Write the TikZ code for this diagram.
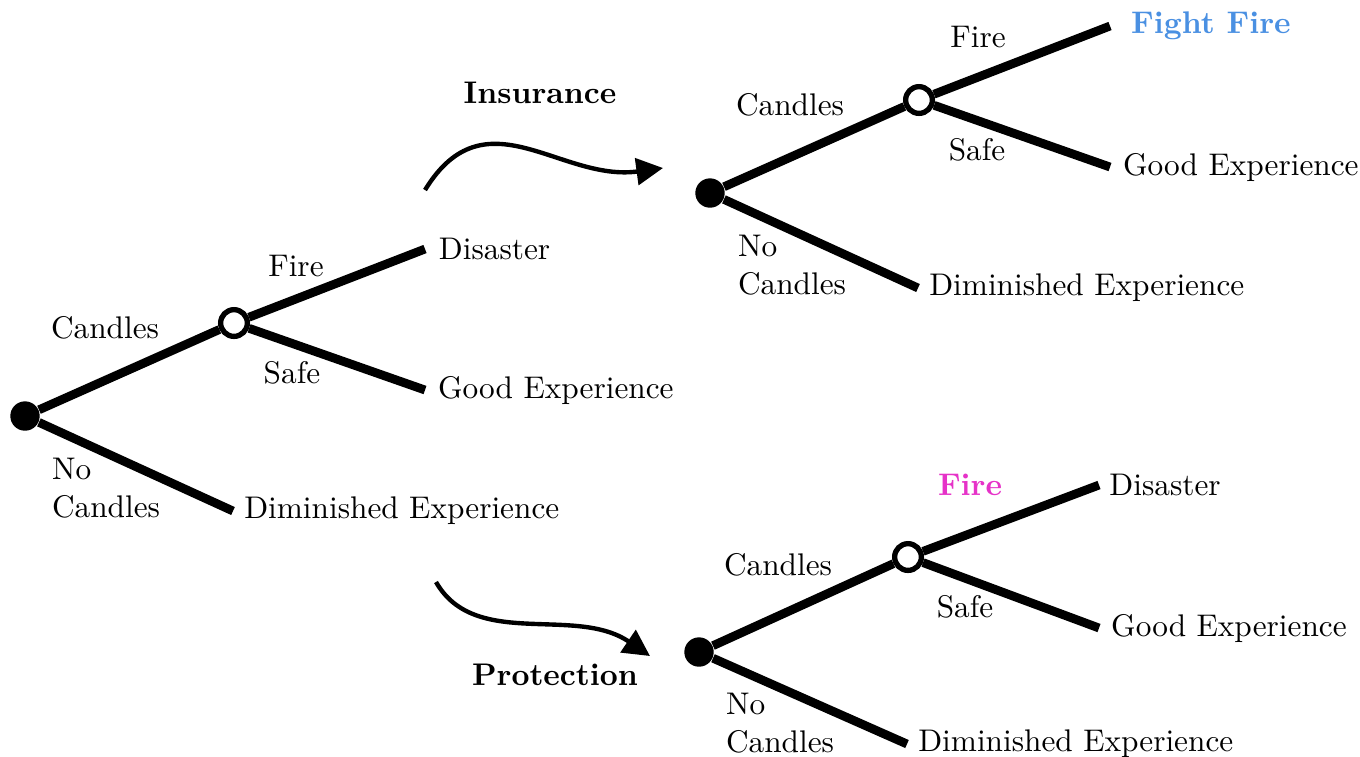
\documentclass[tikz,border=0pt]{standalone}
\usepackage{xcolor}
\usepackage{tikz}
\usetikzlibrary{calc,positioning,arrows.meta}

\definecolor{fightblue}{RGB}{74,144,226}
\definecolor{firepink}{RGB}{230,50,200}

\begin{document}
\begin{tikzpicture}[x=0.01123cm, y=-0.01123cm,
    branch/.style={line width=2.8pt},
    decision/.style={circle, fill=black, inner sep=0pt, minimum size=0.33cm},
    chance/.style={circle, draw, fill=white, line width=1.7pt, inner sep=0pt, minimum size=0.3cm},
    outcome/.style={inner sep=0pt},
    move/.style={line width=1.4pt, -{Triangle[length=8.5pt, width=8.5pt]}}]
    \useasboundingbox (0,0) rectangle (1360,756);

    % Tree without any option
    \begin{scope}[shift={(25,416)}]
        \node[decision] (r1) at (0,0) {};
        \node[chance] (c1) at (209,-93) {};
        \coordinate (f1) at (400,-167);
        \coordinate (s1) at (400,-26);
        \coordinate (n1) at (208,95);
        \draw[branch] (r1) -- (c1);
        \draw[branch] (c1) -- (f1);
        \draw[branch] (c1) -- (s1);
        \draw[branch] (r1) -- (n1);
        \node at (80,-88) {Candles};
        \node at (271,-150) {Fire};
        \node at (267,-43) {Safe};
        \node[align=left, anchor=west] at (16,72) {No\\Candles};
        \node[outcome, right=0.15cm of f1] {Disaster};
        \node[outcome, right=0.14cm of s1] {Good Experience};
        \node[outcome, right=0.12cm of n1] {Diminished Experience};
    \end{scope}

    % Tree with insurance
    \begin{scope}[shift={(710,193)}]
        \node[decision] (r2) at (0,0) {};
        \node[chance] (c2) at (209,-93) {};
        \coordinate (f2) at (400,-167);
        \coordinate (s2) at (400,-26);
        \coordinate (n2) at (208,95);
        \draw[branch] (r2) -- (c2);
        \draw[branch] (c2) -- (f2);
        \draw[branch] (c2) -- (s2);
        \draw[branch] (r2) -- (n2);
        \node at (80,-88) {Candles};
        \node at (268,-156) {Fire};
        \node at (267,-43) {Safe};
        \node[align=left, anchor=west] at (17,72) {No\\Candles};
        \node[outcome, right=0.23cm of f2, text=fightblue] {\textbf{Fight Fire}};
        \node[outcome, right=0.14cm of s2] {Good Experience};
        \node[outcome, right=0.12cm of n2] {Diminished Experience};
    \end{scope}

    % Tree with protection
    \begin{scope}[shift={(699,652)}]
        \node[decision] (r3) at (0,0) {};
        \node[chance] (c3) at (209,-95) {};
        \coordinate (f3) at (400,-167);
        \coordinate (s3) at (400,-24);
        \coordinate (n3) at (208,92);
        \draw[branch] (r3) -- (c3);
        \draw[branch] (c3) -- (f3);
        \draw[branch] (c3) -- (s3);
        \draw[branch] (r3) -- (n3);
        \node at (79,-87) {Candles};
        \node[text=firepink] at (271,-167) {\textbf{Fire}};
        \node at (266,-45) {Safe};
        \node[align=left, anchor=west] at (16,71) {No\\Candles};
        \node[outcome, right=0.11cm of f3] {Disaster};
        \node[outcome, right=0.13cm of s3] {Good Experience};
        \node[outcome, right=0.12cm of n3] {Diminished Experience};
    \end{scope}

    % Moves between trees
    \coordinate (ins-s) at (425,190);
    \coordinate (ins-e) at (663,168);
    \draw[move] (ins-s) .. controls (485,92) and (560,182) .. (ins-e);
    \node at (540,93) {\textbf{Insurance}};

    \coordinate (pro-s) at (436,582);
    \coordinate (pro-e) at (650,656);
    \draw[move] (pro-s) .. controls (475,650) and (575,605) .. (pro-e);
    \node at (555,675) {\textbf{Protection}};
\end{tikzpicture}
\end{document}
